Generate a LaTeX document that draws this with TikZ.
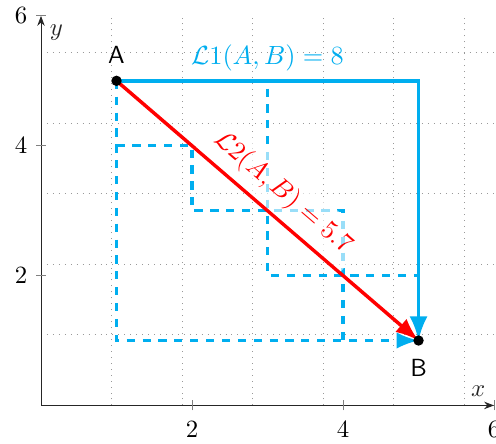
\documentclass[tikz,border=0pt]{standalone}
\usetikzlibrary{arrows.meta,calc}
\definecolor{lcyan}{RGB}{0,174,239}

\begin{document}
\begin{tikzpicture}[x=1.07cm, y=0.92cm, >=Latex, line width=0.4pt]
	
	\useasboundingbox (-0.543,-0.582) rectangle (6.026,6.245);
	
	\coordinate (O) at (0,0);
	\coordinate (A) at (1,5);
	\coordinate (B) at (5,1);
	\coordinate (C) at (5,5);
	\coordinate (X) at (6,0);
	\coordinate (Y) at (0,6);
	
	\draw[dotted, gray!80] (O) grid (6,6);
	
	\draw[-{Stealth[length=4pt]}, black!85] (O) -- (X)
	node[above left] (xlab) {$x$};
	\draw[-{Stealth[length=4pt]}, black!85] (O) -- (Y)
	node[below right] (ylab) {$y$};
	
	\foreach \t in {2,4,6} {
		\draw[gray] (\t,0) ++(0,-2pt) -- ++(0,4pt);
		\draw[gray] (0,\t) ++(-2pt,0) -- ++(4pt,0);
		\node[below=3pt] (xt\t) at (\t,0) {$\t$};
		\node[left=2pt] (yt\t) at (0,\t) {$\t$};
	}
	
	\draw[->, dash pattern=on 3.3pt off 3.1pt, line width=1.3pt, lcyan] (A) -- (1,1) -- (B);
	\draw[dash pattern=on 3.3pt off 3.1pt, line width=1.3pt, lcyan] (1,4) -- (2,4) -- (2,3) -- (4,3) -- (4,1);
	\draw[dash pattern=on 3.3pt off 3.1pt, line width=1.3pt, lcyan] (A) -- (3,5) -- (3,2) -- (5,2);
	
	\draw[->, line width=1.5pt, lcyan] (A) -- (C) -- (B);
	\node[above, lcyan, scale=1.06] (lone) at ($(A)!0.5!(C)$) {$\mathcal{L}1(A,B) = 8$};
	
	\draw[->, line width=1.4pt, red] (A) -- (B)
	node[midway, above, sloped, fill=white, fill opacity=0.6, text opacity=1, scale=1.06] (ltwo) {$\mathcal{L}2(A,B) = 5.7$};
	
	\fill (A) circle (2.1pt);
	\fill (B) circle (2.1pt);
	\node[above=3.5pt, font=\sffamily] (alab) at (A) {A};
	\node[below=4pt, font=\sffamily] (blab) at (B) {B};
	
\end{tikzpicture}
\end{document}
